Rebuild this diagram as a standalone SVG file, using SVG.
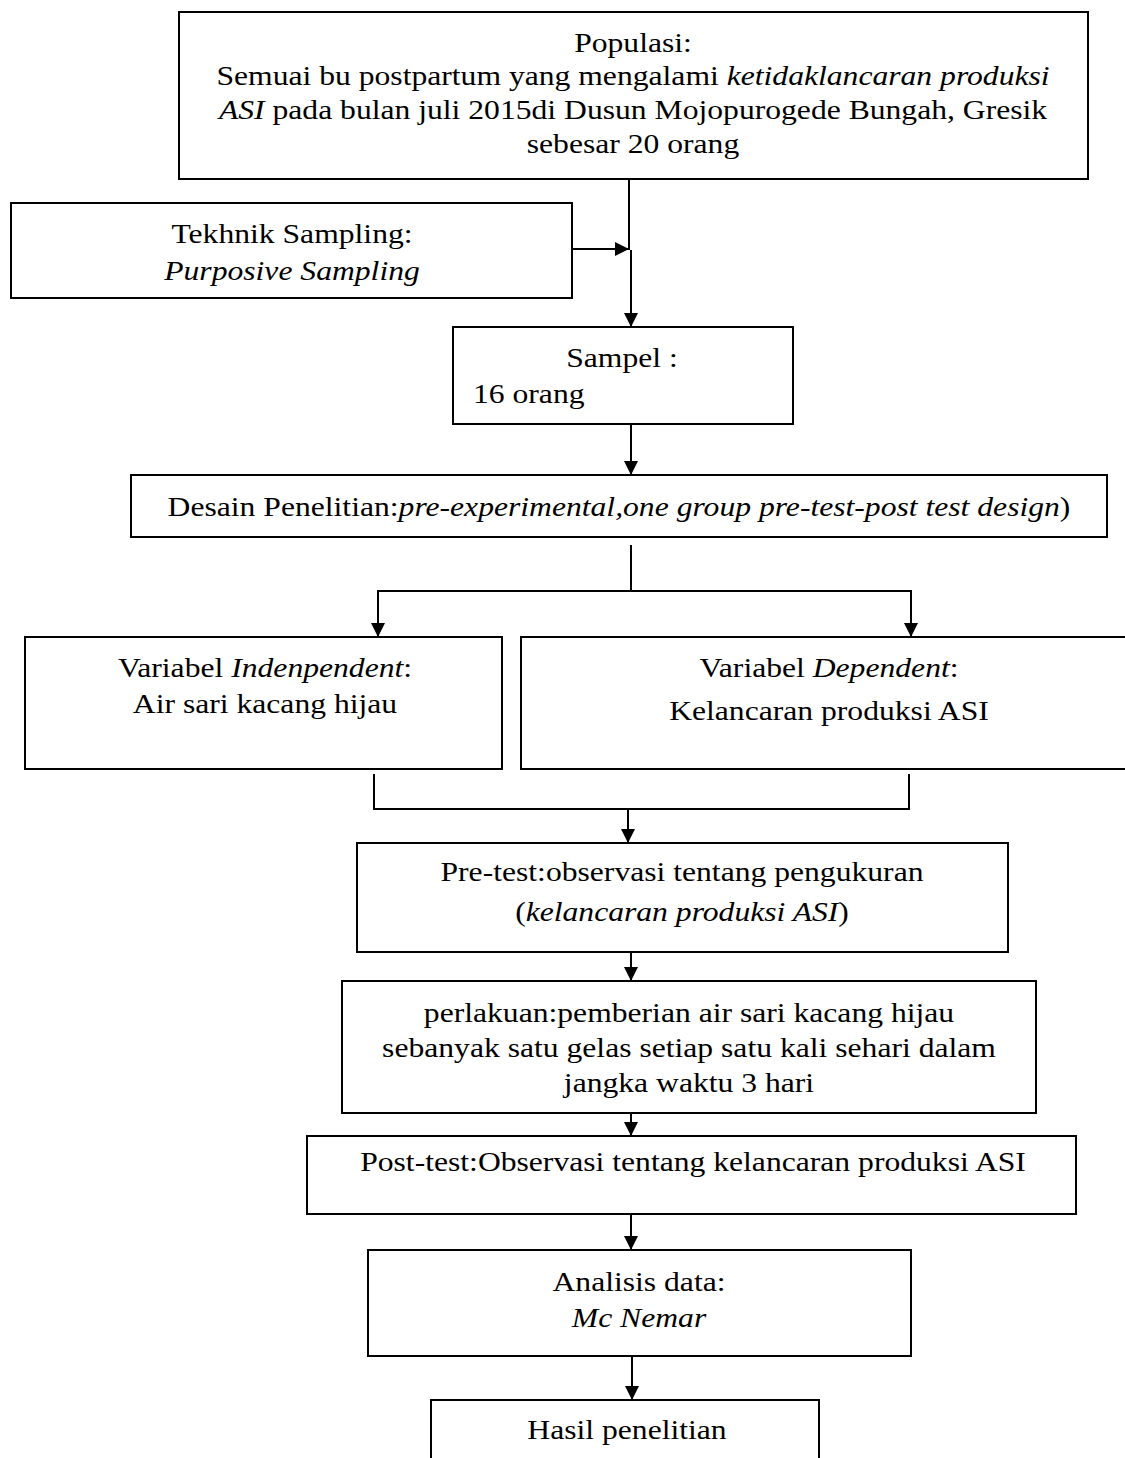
<svg xmlns="http://www.w3.org/2000/svg" width="1125" height="1458" viewBox="0 0 1125 1458">
<style>
  .box { fill: #ffffff; stroke: #000000; stroke-width: 2; }
  .t { font-family: "Liberation Serif", "Times New Roman", serif; font-size: 28px; fill: #000000; text-anchor: middle; }
  .ts { text-anchor: start; }
  .it { font-style: italic; }
  .ln { fill: none; stroke: #000000; stroke-width: 2; }
  .arr { marker-end: url(#ah); }
</style>
<defs>
  <marker id="ah" markerUnits="userSpaceOnUse" markerWidth="14" markerHeight="14" refX="14" refY="7" orient="auto">
    <path d="M0,0 L14,7 L0,14 Z" fill="#000000"/>
  </marker>
</defs>
<rect x="0" y="0" width="1125" height="1458" fill="#ffffff"/>

<g id="connectors">
  <line class="ln" x1="629" y1="179" x2="629" y2="250"/>
  <line class="ln arr" x1="631" y1="250" x2="631" y2="327"/>
  <line class="ln arr" x1="572" y1="249" x2="629" y2="249"/>
  <line class="ln arr" x1="631" y1="424" x2="631" y2="475"/>
  <line class="ln" x1="631" y1="545" x2="631" y2="591"/>
  <line class="ln" x1="377" y1="591" x2="912" y2="591"/>
  <line class="ln arr" x1="378" y1="591" x2="378" y2="637"/>
  <line class="ln arr" x1="911" y1="591" x2="911" y2="637"/>
  <polyline class="ln" points="374,774 374,809 909,809 909,774"/>
  <line class="ln arr" x1="628" y1="809" x2="628" y2="843"/>
  <line class="ln arr" x1="631" y1="952" x2="631" y2="981"/>
  <line class="ln arr" x1="631" y1="1113" x2="631" y2="1136"/>
  <line class="ln arr" x1="631" y1="1214" x2="631" y2="1250"/>
  <line class="ln arr" x1="632" y1="1356" x2="632" y2="1400"/>
</g>

<g id="populasi">
  <rect class="box" x="179" y="12" width="909" height="167"/>
  <text class="t" transform="translate(633,52) scale(1.13,1)">Populasi:</text>
  <text class="t" transform="translate(633,85) scale(1.13,1)">Semuai bu postpartum yang mengalami <tspan class="it">ketidaklancaran produksi</tspan></text>
  <text class="t" transform="translate(633,119) scale(1.13,1)"><tspan class="it">ASI</tspan> pada bulan juli 2015di Dusun Mojopurogede Bungah, Gresik</text>
  <text class="t" transform="translate(633,153) scale(1.13,1)">sebesar 20 orang</text>
</g>

<g id="tekhnik">
  <rect class="box" x="11" y="203" width="561" height="95"/>
  <text class="t" transform="translate(292,243) scale(1.13,1)">Tekhnik Sampling:</text>
  <text class="t it" transform="translate(292,280) scale(1.13,1)">Purposive Sampling</text>
</g>

<g id="sampel">
  <rect class="box" x="453" y="327" width="340" height="97"/>
  <text class="t" transform="translate(622,367) scale(1.13,1)">Sampel :</text>
  <text class="t ts" transform="translate(473,403) scale(1.13,1)">16 orang</text>
</g>

<g id="desain">
  <rect class="box" x="131" y="475" width="976" height="62"/>
  <text class="t" transform="translate(619,516) scale(1.13,1)">Desain Penelitian:<tspan class="it">pre-experimental,one group pre-test-post test design</tspan>)</text>
</g>

<g id="independent">
  <rect class="box" x="25" y="637" width="477" height="132"/>
  <text class="t" transform="translate(265,677) scale(1.13,1)">Variabel <tspan class="it">Indenpendent</tspan>:</text>
  <text class="t" transform="translate(265,713) scale(1.13,1)">Air sari kacang hijau</text>
</g>

<g id="dependent">
  <rect class="box" x="521" y="637" width="620" height="132"/>
  <text class="t" transform="translate(829,677) scale(1.13,1)">Variabel <tspan class="it">Dependent</tspan>:</text>
  <text class="t" transform="translate(829,720) scale(1.13,1)">Kelancaran produksi ASI</text>
</g>

<g id="pretest">
  <rect class="box" x="357" y="843" width="651" height="109"/>
  <text class="t" transform="translate(682,881) scale(1.13,1)">Pre-test:observasi tentang pengukuran</text>
  <text class="t" transform="translate(682,921) scale(1.13,1)">(<tspan class="it">kelancaran produksi ASI</tspan>)</text>
</g>

<g id="perlakuan">
  <rect class="box" x="342" y="981" width="694" height="132"/>
  <text class="t" transform="translate(689,1022) scale(1.13,1)">perlakuan:pemberian air sari kacang hijau</text>
  <text class="t" transform="translate(689,1057) scale(1.13,1)">sebanyak satu gelas setiap satu kali sehari dalam</text>
  <text class="t" transform="translate(689,1092) scale(1.13,1)">jangka waktu 3 hari</text>
</g>

<g id="posttest">
  <rect class="box" x="307" y="1136" width="769" height="78"/>
  <text class="t" transform="translate(693,1171) scale(1.13,1)">Post-test:Observasi tentang kelancaran produksi ASI</text>
</g>

<g id="analisis">
  <rect class="box" x="368" y="1250" width="543" height="106"/>
  <text class="t" transform="translate(639,1291) scale(1.13,1)">Analisis data:</text>
  <text class="t it" transform="translate(639,1327) scale(1.13,1)">Mc Nemar</text>
</g>

<g id="hasil">
  <rect class="box" x="431" y="1400" width="388" height="80"/>
  <text class="t" transform="translate(627,1439) scale(1.13,1)">Hasil penelitian</text>
</g>
</svg>
